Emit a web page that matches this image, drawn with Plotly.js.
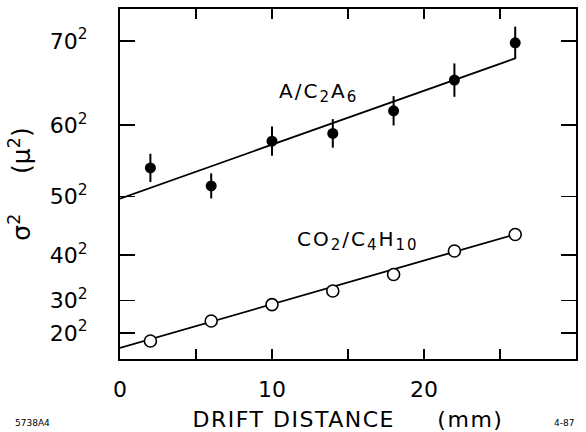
<!DOCTYPE html>
<html>
<head>
<meta charset="utf-8">
<script src="https://cdn.plot.ly/plotly-3.0.1.min.js"></script>
<style>html,body{margin:0;padding:0;background:#fff;}</style>
</head>
<body>
<div id="chart" style="width:586px;height:432px;"></div>
<script>
// Drift distance (mm)
const driftMM = [2, 6, 10, 14, 18, 22, 26];
// A/C2A6 : sigma^2 (micron^2) and errors
const argonEthane = [2943, 2666, 3355, 3474, 3822, 4295, 4870];
const argonEthaneErr = [218, 193, 226, 220, 226, 257, 249];
// CO2/C4H10 : sigma^2 (micron^2)
const co2Isobutane = [277, 586, 838, 1048, 1301, 1664, 1917];
// Fit lines (endpoints)
const fitX = [0, 26];
const fitArgon = [2470, 4630];
const fitCO2 = [170, 1920];
// Tick labels
const yTickVals = [400, 900, 1600, 2500, 3600, 4900];
const yTickText = ["20<sup>2</sup>", "30<sup>2</sup>", "40<sup>2</sup>", "50<sup>2</sup>", "60<sup>2</sup>", "70<sup>2</sup>"];
const xTickVals = [0, 5, 10, 15, 20, 25, 30];
const xTickText = ["0", "", "10", "", "20", "", "30"];

const FONT = "DejaVu Sans, Open Sans, sans-serif";
const sub = s => '<sub><span style="font-size:15px">' + s + '</span></sub>';

const traces = [
  {x: fitX, y: fitArgon, mode: 'lines', line: {color: '#000', width: 1.8}, hoverinfo: 'skip'},
  {x: fitX, y: fitCO2, mode: 'lines', line: {color: '#000', width: 1.8}, hoverinfo: 'skip'},
  {x: driftMM, y: argonEthane, mode: 'markers',
   marker: {symbol: 'circle', size: 11, color: '#000'},
   error_y: {type: 'data', array: argonEthaneErr, visible: true, color: '#000', thickness: 2, width: 0}},
  {x: driftMM, y: co2Isobutane, mode: 'markers',
   marker: {symbol: 'circle', size: 12, color: '#fff', line: {color: '#000', width: 1.6}}}
];

const layout = {
  width: 586, height: 432,
  margin: {l: 120, r: 10, t: 9, b: 73},
  paper_bgcolor: '#fff', plot_bgcolor: '#fff',
  showlegend: false,
  font: {family: FONT, color: '#000'},
  xaxis: {
    range: [0, 30], tickmode: 'array', tickvals: xTickVals, ticktext: xTickText,
    ticks: 'inside', ticklen: 10, tickwidth: 1.5, tickcolor: '#000',
    showline: true, linecolor: '#000', linewidth: 2, mirror: 'ticks',
    showgrid: false, zeroline: false,
    tickfont: {family: FONT, size: 22, color: '#000'}, ticklabelstandoff: 10,
    title: {text: '<span style="letter-spacing:1.5px">DRIFT DISTANCE &nbsp;&nbsp;&nbsp;&nbsp;(mm)</span>', font: {family: FONT, size: 22, color: '#000'}, standoff: 10}
  },
  yaxis: {
    range: [0, 5390], tickmode: 'array', tickvals: yTickVals, ticktext: yTickText,
    ticks: 'inside', ticklen: 15, tickwidth: 1.5, tickcolor: '#000',
    showline: true, linecolor: '#000', linewidth: 2, mirror: 'ticks',
    showgrid: false, zeroline: false,
    tickfont: {family: FONT, size: 22, color: '#000'}, ticklabelstandoff: 26,
    title: {text: 'σ<sup>2</sup> &nbsp;&nbsp;&nbsp;&nbsp;(μ<sup>2</sup>)', font: {family: FONT, size: 25, color: '#000'}, standoff: 12}
  },
  annotations: [
    {x: 10.3, y: 4110, xref: 'x', yref: 'y', xanchor: 'left', yanchor: 'middle', showarrow: false,
     text: '<span style="letter-spacing:2px">A/C' + sub('2') + 'A' + sub('6') + '</span>', font: {family: FONT, size: 20, color: '#000'}},
    {x: 11.5, y: 1820, xref: 'x', yref: 'y', xanchor: 'left', yanchor: 'middle', showarrow: false,
     text: '<span style="letter-spacing:2px">CO' + sub('2') + '/C' + sub('4') + 'H' + sub('10') + '</span>', font: {family: FONT, size: 20, color: '#000'}},
    {x: -0.235, y: -0.183, xref: 'paper', yref: 'paper', xanchor: 'left', yanchor: 'middle', showarrow: false,
     text: '5738A4', font: {family: FONT, size: 9, color: '#000'}},
    {x: 1.0, y: -0.183, xref: 'paper', yref: 'paper', xanchor: 'right', yanchor: 'middle', showarrow: false,
     text: '4-87', font: {family: FONT, size: 9, color: '#000'}}
  ]
};

Plotly.newPlot('chart', traces, layout, {displayModeBar: false, staticPlot: true});
</script>
</body>
</html>
